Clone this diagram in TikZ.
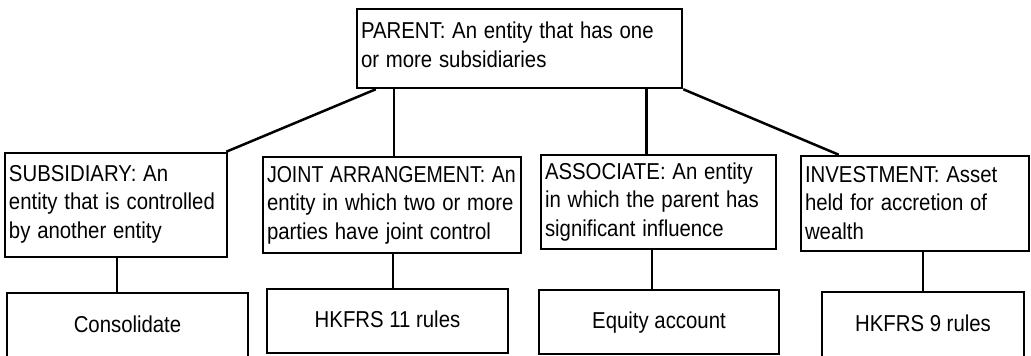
\documentclass[tikz,border=0pt]{standalone}
\usepackage{fontspec}
\setmainfont{Liberation Sans}
% condensed lettering: each line is narrowed horizontally
\newcommand\condline[2][0.885]{\scalebox{#1}[1]{#2}}
% extra depth under the last line, lifting a block inside its box
\newcommand\lift[1]{\rule[-#1]{0pt}{#1}}
\begin{document}
\begin{tikzpicture}[x=1pt,y=-1pt,
  box/.style={draw, line width=2.5pt, rectangle, inner xsep=4pt, inner ysep=0pt,
    font=\fontsize{23}{28.5}\selectfont, align=left},
  outcome/.style={draw, line width=2.5pt, rectangle, inner sep=0pt, text depth=3pt,
    font=\fontsize{23}{28.5}\selectfont, align=center},
  link/.style={line width=2.5pt}]
\clip (0,0) rectangle (1031,356);

% top level
\node[box, minimum width=325pt, minimum height=79pt, text width=317pt]
  (parent) at (519.5,48.5)
  {\condline{PARENT: An entity that has one}\\\condline{or more subsidiaries}\lift{7.3pt}};

% kinds of investee
\node[box, minimum width=222pt, minimum height=104pt, text width=214pt]
  (sub) at (116,205)
  {\condline{SUBSIDIARY: An}\\\condline{entity that is controlled}\\\condline{by another entity}\lift{6.4pt}};
\node[box, minimum width=258pt, minimum height=96pt, text width=250pt]
  (jt) at (392,205)
  {\condline[0.85]{JOINT ARRANGEMENT: An}\\\condline{entity in which two or more}\\\condline{parties have joint control}};
\node[box, minimum width=235pt, minimum height=94pt, text width=227pt]
  (as) at (658.5,202)
  {\condline{ASSOCIATE: An entity}\\\condline{in which the parent has}\\\condline{significant influence}};
\node[box, minimum width=228pt, minimum height=95pt, text width=220pt]
  (inv) at (915,203.5)
  {\condline{INVESTMENT: Asset}\\\condline{held for accretion of}\\\condline{wealth}\lift{1.4pt}};

% accounting treatment
\node[outcome, minimum width=241pt, minimum height=65pt] (cons) at (127.5,325.5) {\condline{Consolidate}};
\node[outcome, minimum width=241pt, minimum height=64pt] (hk11) at (387.5,321) {\condline{HKFRS 11 rules}};
\node[outcome, minimum width=240pt, minimum height=64pt] (eq) at (659,322) {\condline{Equity account}};
\node[outcome, minimum width=202pt, minimum height=65pt] (hk9) at (923,324.5) {\condline{HKFRS 9 rules}};

% parent to each kind
\draw[link] ([xshift=20pt]parent.south west) -- ([xshift=-2pt]sub.north east);
\draw[link] ([xshift=38pt]parent.south west) -- ([xshift=38pt]parent.south west |- jt.north);
\draw[link] ([xshift=-37pt]parent.south east) -- ([xshift=-37pt]parent.south east |- as.north);
\draw[link] (parent.south east) -- ([xshift=39pt]inv.north west);

% each kind to its treatment
\draw[link] ([xshift=1pt]sub.south) -- ([xshift=1pt]sub.south |- cons.north);
\draw[link] ([xshift=1pt]jt.south) -- ([xshift=1pt]jt.south |- hk11.north);
\draw[link] ([xshift=-6.5pt]as.south) -- ([xshift=-6.5pt]as.south |- eq.north);
\draw[link] (hk9.north |- inv.south) -- (hk9.north);
\end{tikzpicture}
\end{document}
